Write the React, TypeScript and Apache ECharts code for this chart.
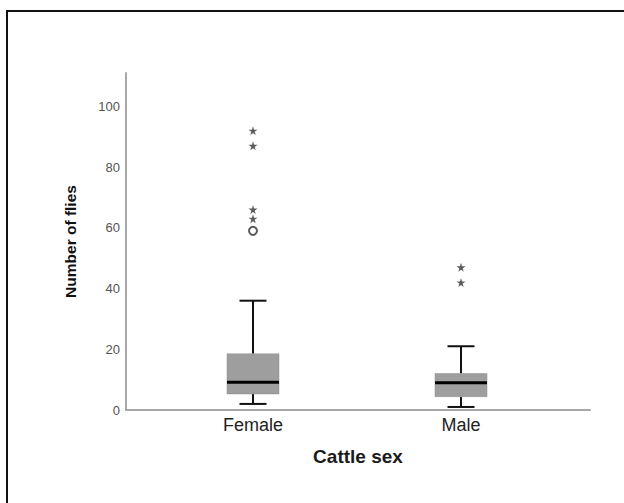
import React, { useEffect, useRef } from "react";
import * as echarts from "echarts";

const categories = ["Female", "Male"];
const whiskerLow = [2, 1];
const q1 = [5.3, 4.4];
const median = [9.1, 9.0];
const q3 = [18.5, 12.0];
const whiskerHigh = [36, 21];
const circleOutliers: [string, number][] = [["Female", 59]];
const starOutliers: [string, number][] = [
  ["Female", 92],
  ["Female", 87],
  ["Female", 66],
  ["Female", 63],
  ["Male", 47],
  ["Male", 42],
];
const yTicks = [0, 20, 40, 60, 80, 100];

const STAR =
  "path://M50,0 L61,35 L98,35 L68,57 L79,91 L50,70 L21,91 L32,57 L2,35 L39,35 Z";

export default function App() {
  const ref = useRef<HTMLDivElement>(null);
  useEffect(() => {
    const chart = echarts.init(ref.current!, null, { renderer: "svg" });
    const boxData = categories.map((_, i) => [
      i,
      whiskerLow[i],
      q1[i],
      median[i],
      q3[i],
      whiskerHigh[i],
    ]);
    const yMax = 111;
    chart.setOption({
      animation: false,
      backgroundColor: "#ffffff",
      grid: [
        { left: 149, width: 416, top: 73, height: 337 },
        { left: 126, width: 464, top: 73, height: 337 },
      ],
      xAxis: [
        {
          type: "category",
          gridIndex: 0,
          data: categories,
          axisLine: { show: false },
          axisTick: { show: false },
          axisLabel: {
            margin: 6,
            fontSize: 18,
            color: "#222",
            fontFamily: "Liberation Sans, Arial, sans-serif",
          },
        },
        {
          type: "value",
          gridIndex: 1,
          min: 0,
          max: 1,
          axisLine: { show: true, lineStyle: { color: "#a8a8a8", width: 2 } },
          axisTick: { show: false },
          axisLabel: { show: false },
          splitLine: { show: false },
          name: "Cattle sex",
          nameLocation: "middle",
          nameGap: 37,
          nameTextStyle: {
            fontSize: 19,
            fontWeight: "bold",
            color: "#1a1a1a",
            fontFamily: "Liberation Sans, Arial, sans-serif",
          },
        },
      ],
      yAxis: [
        {
          type: "value",
          gridIndex: 0,
          min: 0,
          max: yMax,
          show: false,
          splitLine: { show: false },
        },
        {
          type: "value",
          gridIndex: 1,
          min: 0,
          max: yMax,
          interval: 20,
          axisLine: { show: true, lineStyle: { color: "#a8a8a8", width: 2 } },
          axisTick: { show: false },
          splitLine: { show: false },
          axisLabel: {
            margin: 6,
            fontSize: 13,
            color: "#555",
            fontFamily: "Liberation Sans, Arial, sans-serif",
            formatter: (v: number) => (yTicks.includes(v) ? String(v) : ""),
          },
          name: "Number of flies",
          nameLocation: "middle",
          nameGap: 48,
          nameTextStyle: {
            fontSize: 15.5,
            fontWeight: "bold",
            color: "#111",
            fontFamily: "Liberation Sans, Arial, sans-serif",
          },
        },
      ],
      graphic: [
        {
          type: "rect",
          shape: { x: 7, y: 11, width: 700, height: 600 },
          style: { fill: "none", stroke: "#111", lineWidth: 2 },
          silent: true,
        },
      ],
      series: [
        {
          type: "custom",
          xAxisIndex: 0,
          yAxisIndex: 0,
          data: boxData,
          encode: { x: 0, y: [1, 2, 3, 4, 5] },
          renderItem: (params: any, api: any) => {
            const idx = api.value(0);
            const pLow = api.coord([idx, api.value(1)]);
            const pQ1 = api.coord([idx, api.value(2)]);
            const pMed = api.coord([idx, api.value(3)]);
            const pQ3 = api.coord([idx, api.value(4)]);
            const pHigh = api.coord([idx, api.value(5)]);
            const cx = pMed[0];
            const bw = 52;
            const cw = 27;
            const lineStyle = { stroke: "#111", lineWidth: 2 };
            return {
              type: "group",
              children: [
                {
                  type: "line",
                  shape: { x1: cx, y1: pQ3[1], x2: cx, y2: pHigh[1] },
                  style: lineStyle,
                },
                {
                  type: "line",
                  shape: { x1: cx, y1: pQ1[1], x2: cx, y2: pLow[1] },
                  style: lineStyle,
                },
                {
                  type: "line",
                  shape: { x1: cx - cw / 2, y1: pHigh[1], x2: cx + cw / 2, y2: pHigh[1] },
                  style: lineStyle,
                },
                {
                  type: "line",
                  shape: { x1: cx - cw / 2, y1: pLow[1], x2: cx + cw / 2, y2: pLow[1] },
                  style: lineStyle,
                },
                {
                  type: "rect",
                  shape: { x: cx - bw / 2, y: pQ3[1], width: bw, height: pQ1[1] - pQ3[1] },
                  style: { fill: "#9e9e9e", stroke: "#8c8c8c", lineWidth: 0.5 },
                },
                {
                  type: "line",
                  shape: { x1: cx - bw / 2, y1: pMed[1], x2: cx + bw / 2, y2: pMed[1] },
                  style: { stroke: "#000", lineWidth: 3 },
                },
              ],
            };
          },
        },
        {
          type: "scatter",
          xAxisIndex: 0,
          yAxisIndex: 0,
          data: starOutliers,
          symbol: STAR,
          symbolSize: 9,
          itemStyle: { color: "#333" },
        },
        {
          type: "scatter",
          xAxisIndex: 0,
          yAxisIndex: 0,
          data: circleOutliers,
          symbol: "emptyCircle",
          symbolSize: 8,
          itemStyle: { color: "#333", borderWidth: 1.5, borderColor: "#333" },
        },
      ],
    });
    return () => chart.dispose();
  }, []);
  return (
    <div
      ref={ref}
      style={{ position: "fixed", left: 0, top: 0, width: 624, height: 503 }}
    />
  );
}
